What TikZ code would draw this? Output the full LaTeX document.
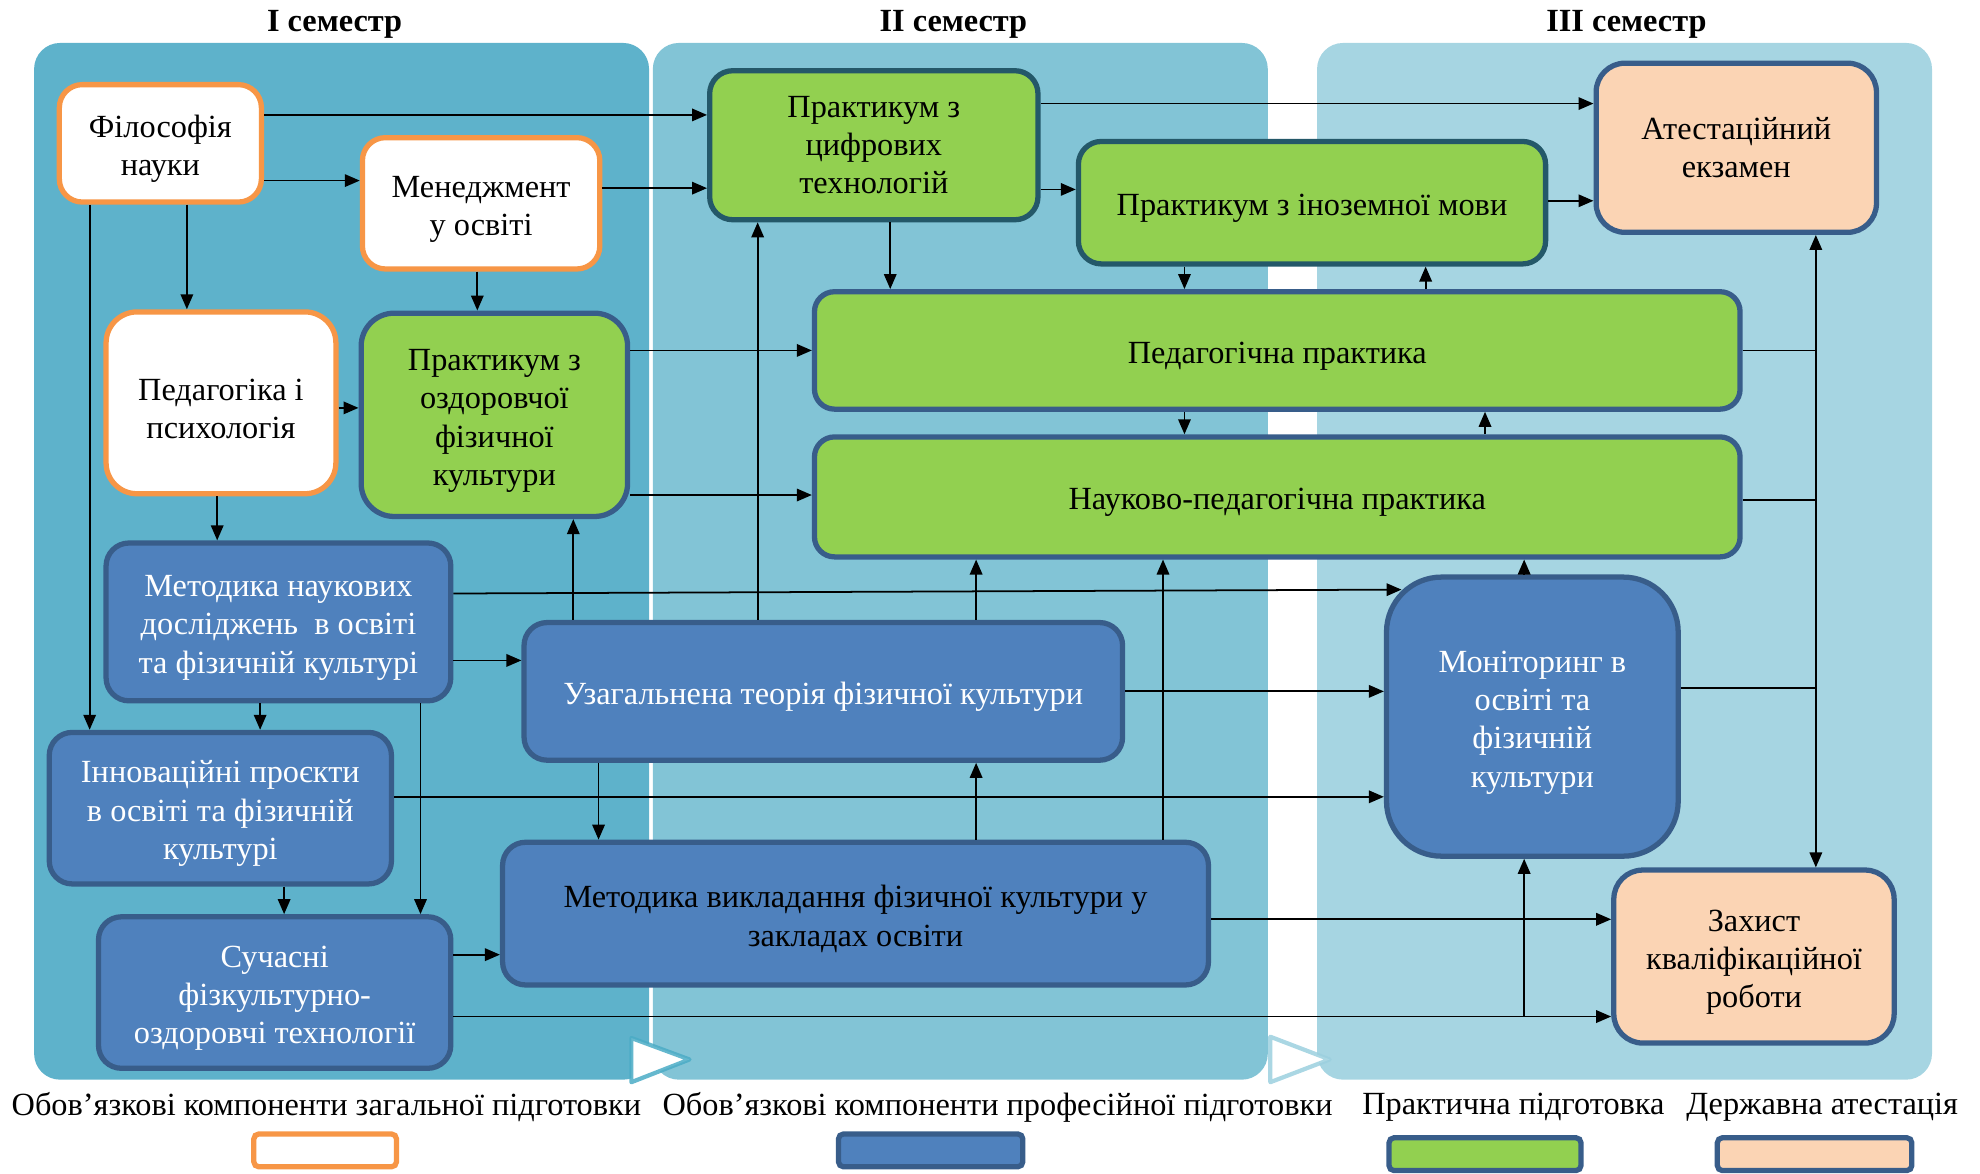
\documentclass[tikz,border=0pt]{standalone}
\usepackage{fontspec}
\setmainfont{Liberation Serif}
\usepackage{tikz}
\usetikzlibrary{calc,arrows.meta}

\definecolor{semA}{HTML}{5EB2CB}
\definecolor{semB}{HTML}{82C4D6}
\definecolor{semC}{HTML}{A6D5E2}
\definecolor{orangeB}{HTML}{F79646}
\definecolor{blueF}{HTML}{4F81BD}
\definecolor{blueB}{HTML}{385D8A}
\definecolor{greenF}{HTML}{92D050}
\definecolor{tealB}{HTML}{245869}
\definecolor{peachF}{HTML}{FBD4B4}
\definecolor{triA}{HTML}{4BACC6}
\definecolor{triB}{HTML}{9CD0DF}

\newcommand{\pxu}{0.012628cm}
\newcommand{\topstrut}{\rule{0pt}{9.4pt}}

\begin{document}
\begin{tikzpicture}[x=0.012628cm, y=-0.012628cm,
    box/.style={draw, line width=1.5pt, align=center, inner sep=2pt,
      rounded corners=2.3mm, font=\fontsize{9.2}{10.9}\selectfont},
    gen/.style={box, fill=white, draw=orangeB},
    prof/.style={box, fill=blueF, draw=blueB, text=white},
    prac/.style={box, fill=greenF, draw=blueB},
    pract/.style={box, fill=greenF, draw=tealB},
    att/.style={box, fill=peachF, draw=blueB},
    sz/.style 2 args={minimum width=#1*\pxu, minimum height=#2*\pxu},
    arr/.style={line width=0.5pt, -{Triangle[length=1.5mm,width=1.25mm]}},
    sem/.style={font=\fontsize{9.2}{11}\selectfont\bfseries},
    leg/.style={font=\fontsize{9.2}{10.9}\selectfont},
    legbox/.style={draw, line width=1.5pt, rounded corners=0.5mm}
  ]
  \useasboundingbox (0,0) rectangle (1568,929);

  \fill[semA, rounded corners=2.6mm] (27,34) rectangle (514,855);
  \fill[semB, rounded corners=2.6mm] (517,34) rectangle (1004,855);
  \fill[semC, rounded corners=2.6mm] (1043,34) rectangle (1530,855);
  \draw[triA, line width=1.2pt, fill=white, draw opacity=0.85, line join=round] (500,822) -- (546,839) -- (500,857) -- cycle;
  \draw[triB, line width=1.2pt, fill=white, draw opacity=0.85, line join=round] (1006,821) -- (1053,839) -- (1006,857) -- cycle;

  \node[sem] (s1) at (265,19) {I семестр};
  \node[sem] (s2) at (755,19) {II семестр};
  \node[sem] (s3) at (1288,19) {III семестр};

  \node[gen, sz={160}{93}] (fil) at (127,113.5) {\topstrut Філософія\\науки};
  \node[gen, sz={188}{104}] (men) at (381,161) {\topstrut Менеджмент\\у освіті};
  \node[gen, sz={182}{144}, rounded corners=3.1mm] (ped) at (175,319) {\topstrut Педагогіка і\\психологія};
  \node[prac, sz={211}{161}, rounded corners=3.3mm] (pozd) at (391.5,328.5) {\topstrut Практикум з\\оздоровчої\\фізичної\\культури};
  \node[prof, sz={273}{125}] (mnd) at (220.5,492.5) {\topstrut Методика наукових\\досліджень\ \ в освіті\\та фізичній культурі};
  \node[prof, sz={271}{120}] (inn) at (174.5,640) {\topstrut Інноваційні проєкти\\в освіті та фізичній\\культурі};
  \node[prof, sz={279}{120}] (such) at (217.5,786) {\topstrut Сучасні\\фізкультурно-\\оздоровчі технології};
  \node[prof, sz={474}{109}] (uzag) at (652,547.5) {\topstrut Узагальнена теорія фізичної культури};
  \node[prof, sz={559}{113}, text=black] (mvykl) at (677.5,723.5) {\topstrut Методика викладання фізичної культури у\\закладах освіти};
  \node[pract, sz={260}{118}] (pcyf) at (692,115) {Практикум з\\цифрових\\технологій};
  \node[pract, sz={370}{97}] (pino) at (1039,160.5) {\topstrut Практикум з іноземної мови};
  \node[prac, sz={733}{93}, rounded corners=2mm] (pedpr) at (1011.5,277.5) {\topstrut Педагогічна практика};
  \node[prac, sz={733}{95}, rounded corners=2mm] (nauk) at (1011.5,393.5) {\topstrut Науково-педагогічна практика};
  \node[att, sz={222}{134}, rounded corners=2.9mm] (atest) at (1375,117) {Атестаційний\\екзамен};
  \node[prof, sz={231}{221}, rounded corners=5.5mm] (monit) at (1213.5,567.5) {\topstrut Моніторинг в\\освіті та\\фізичній\\культури};
  \node[att, sz={222}{137}, rounded corners=2.9mm] (zakh) at (1389,757.5) {\topstrut Захист\\кваліфікаційної\\роботи};

  \draw[arr] (fil.east |- 0,91) -- (pcyf.west |- 0,91);
  \draw[arr] (fil.east |- 0,143) -- (men.west |- 0,143);
  \draw[arr] (fil.south -| 148,0) -- (ped.north -| 148,0);
  \draw[arr] (fil.south -| 71,0) -- (inn.north -| 71,0);
  \draw[arr] (men.east |- 0,149) -- (pcyf.west |- 0,149);
  \draw[arr] (men.south -| 378,0) -- (pozd.north -| 378,0);
  \draw[arr] (ped.east |- 0,323) -- (pozd.west |- 0,323);
  \draw[arr] (ped.south -| 172,0) -- (mnd.north -| 172,0);
  \draw[arr] (pozd.east |- pedpr.west) -- (pedpr.west);
  \draw[arr] (pozd.east |- 0,392) -- (nauk.west |- 0,392);
  \draw[arr] (uzag.north -| 454,0) -- (pozd.south -| 454,0);
  \draw[arr] (mnd.east |- 0,470) -- ($(monit.north west)+(14,12)$);
  \draw[arr] (mnd.east |- 0,523) -- (uzag.west |- 0,523);
  \draw[arr] (mnd.south -| 206,0) -- (inn.north -| 206,0);
  \draw[arr] (mnd.south -| 333,0) -- (such.north -| 333,0);
  \draw[arr] (inn.east |- 0,631) -- (monit.west |- 0,631);
  \draw[arr] (inn.south -| 225,0) -- (such.north -| 225,0);
  \draw[arr] (such.east |- 0,756) -- (mvykl.west |- 0,756);
  \draw[arr] (such.east |- 0,805) -- (zakh.west |- 0,805);
  \coordinate (j1) at (1207,805);
  \draw[arr] (j1) -- (monit.south -| j1);
  \draw[arr] (uzag.north -| 600,0) -- (pcyf.south -| 600,0);
  \draw[arr] (uzag.north -| 773,0) -- (nauk.south -| 773,0);
  \draw[arr] (uzag.east) -- (monit.west |- uzag.east);
  \draw[arr] (uzag.south -| 474,0) -- (mvykl.north -| 474,0);
  \draw[arr] (mvykl.north -| 773,0) -- (uzag.south -| 773,0);
  \draw[arr] (mvykl.north -| 921,0) -- (nauk.south -| 921,0);
  \draw[arr] (mvykl.east |- 0,728) -- (zakh.west |- 0,728);
  \draw[arr] (pcyf.east |- 0,82) -- (atest.west |- 0,82);
  \draw[arr] (pcyf.east |- 0,150) -- (pino.west |- 0,150);
  \draw[arr] (pcyf.south -| 705,0) -- (pedpr.north -| 705,0);
  \draw[arr] (pino.east |- 0,159) -- (atest.west |- 0,159);
  \draw[arr] (pino.south -| 938,0) -- (pedpr.north -| 938,0);
  \draw[arr] (pedpr.north -| 1129,0) -- (pino.south -| 1129,0);
  \draw[arr] (pedpr.south -| 938,0) -- (nauk.north -| 938,0);
  \draw[arr] (nauk.north -| 1176,0) -- (pedpr.south -| 1176,0);
  \draw[arr] (monit.north -| 1207,0) -- (nauk.south -| 1207,0);
  \coordinate (bus) at (1438,0);
  \draw[arr] (monit.east |- 0,545) -| (bus |- atest.south);
  \draw[arr] (pedpr.east) -| (bus |- zakh.north);
  \draw[line width=0.5pt] (nauk.east |- 0,396) -- (bus |- 0,396);

  \node[leg] (l1) at (258.5,877) {Обов’язкові компоненти загальної підготовки};
  \node[leg] (l2) at (790,877) {Обов’язкові компоненти професійної підготовки};
  \node[leg] (l3) at (1198.5,877) {Практична підготовка};
  \node[leg] (l4) at (1443,877) {Державна атестація};
  \draw[legbox, draw=orangeB, fill=white] (201,898) rectangle (314,924);
  \draw[legbox, draw=blueB, fill=blueF] (664,898) rectangle (810,924);
  \draw[legbox, draw=blueB, fill=greenF] (1100,901) rectangle (1252,927);
  \draw[legbox, draw=blueB, fill=peachF] (1360,901) rectangle (1514,927);
\end{tikzpicture}
\end{document}
